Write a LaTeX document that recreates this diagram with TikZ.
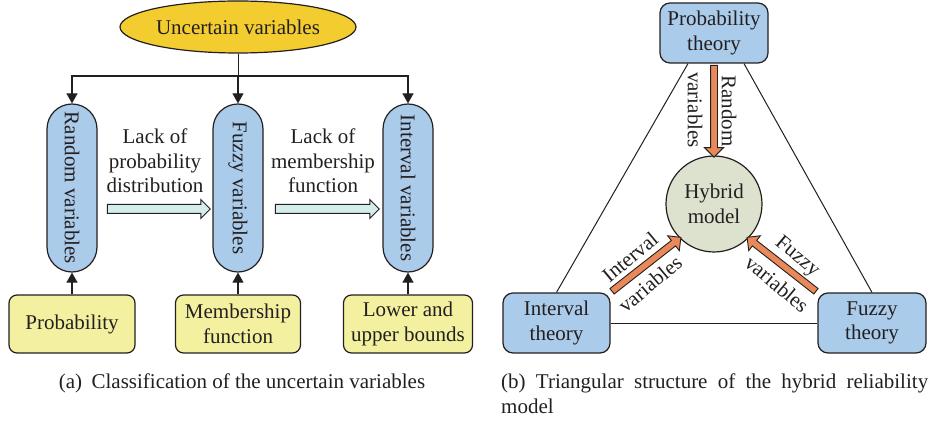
\documentclass[tikz,border=0pt]{standalone}
\usepackage{fontspec}
\setmainfont{Liberation Serif}
\usetikzlibrary{arrows.meta,shapes.arrows,shapes.geometric,calc,backgrounds}
\definecolor{ink}{HTML}{231F20}
\definecolor{bluefill}{RGB}{170,203,234}
\definecolor{yellowell}{RGB}{243,205,48}
\definecolor{lightyellow}{RGB}{243,240,160}
\definecolor{hybridfill}{RGB}{220,226,205}
\definecolor{cyanfill}{RGB}{212,236,234}
\definecolor{orangefill}{RGB}{233,137,90}
\newcommand\myblockarrow[4]{\path let \p1=(#2), \p2=(#3), \n1={atan2(\y2-\y1,\x2-\x1)}, \n2={veclen(\x2-\x1,\y2-\y1)} in node[#1, rotate=\n1, minimum height=\n2] (#4) at ($(\p1)!0.5!(\p2)$) {};}
\begin{document}
\begin{tikzpicture}[x=1pt,y=-1pt,
  font=\fontsize{21}{24.5}\selectfont, text=ink,
  ell/.style={ellipse, draw=ink, fill=yellowell, line width=1.2pt, minimum width=236pt, minimum height=52pt, inner sep=0pt},
  pill/.style={draw=ink, fill=bluefill, line width=1.2pt, rounded corners=25pt, minimum width=50pt, minimum height=168pt, inner sep=0pt},
  ybox/.style={draw=ink, fill=lightyellow, line width=1.2pt, rounded corners=8pt, minimum height=58pt, inner sep=0pt, align=center},
  tbox/.style={draw=ink, fill=bluefill, line width=1.2pt, rounded corners=10pt, minimum width=108pt, minimum height=60pt, inner sep=0pt, align=center},
  hm/.style={circle, draw=ink, fill=hybridfill, line width=1.2pt, minimum size=96pt, inner sep=0pt, align=center},
  conn/.style={draw=ink, line width=1.1pt, -{Triangle[length=10pt,width=11pt]}},
  plain/.style={draw=ink, line width=1pt},
  harrow/.style={single arrow, draw=ink, fill=cyanfill, line width=1pt, inner xsep=0pt, inner ysep=4pt, single arrow head extend=5pt},
  oarrow/.style={single arrow, draw=ink, fill=orangefill, line width=0.9pt, inner xsep=0pt, inner ysep=3pt, single arrow head extend=6pt},
  lbl/.style={inner sep=0pt, align=center}
]
\useasboundingbox (0,0) rectangle (932,422);

% ---------- (a) ----------
\node[ell] (unc) at (238,27) {Uncertain variables};
\node[pill] (rv) at (72,188) {\rotatebox{-90}{Random variables}};
\node[pill] (fv) at (238,188) {\rotatebox{-90}{Fuzzy variables}};
\node[pill] (iv) at (408,188) {\rotatebox{-90}{Interval variables}};
\node[ybox, minimum width=126pt] (pb) at (72,324) {Probability};
\node[ybox, minimum width=125pt] (mf) at (238,324) {Membership\\function};
\node[ybox, minimum width=129pt] (lb) at (408,324) {Lower and\\upper bounds};

\coordinate (jn) at (238,76);
\draw[plain] (unc.south) -- (jn);
\draw[conn] (jn) -- (fv.north);
\draw[conn] (jn) -| (rv.north);
\draw[conn] (jn) -| (iv.north);
\draw[conn] (pb.north) -- (rv.south);
\draw[conn] (mf.north) -- (fv.south);
\draw[conn] (lb.north) -- (iv.south);

\node[lbl] (l1) at (155,161) {Lack of\\probability\\distribution};
\node[lbl] (l2) at (323,161) {Lack of\\membership\\function};
\node[harrow, minimum height=103pt] (ha1) at (156.5,209) {};
\node[harrow, minimum height=104pt] (ha2) at (325,209) {};

\node[lbl, anchor=base] (capa) at (242,388) {(a)\hspace{0.45em}Classification of the uncertain variables};

% ---------- (b) ----------
\node[tbox] (prob) at (714,33) {Probability\\theory};
\node[hm] (hyb) at (714,204) {Hybrid\\model};
\node[tbox, minimum width=107pt] (int) at (556.5,323) {Interval\\theory};
\node[tbox] (fuz) at (872,323) {Fuzzy\\theory};

\begin{pgfonlayer}{background}
\draw[plain] ([xshift=-26pt]prob.south) -- (int.north);
\draw[plain] ([xshift=30pt]prob.south) -- (fuz.north);
\draw[plain] (int.east) -- (fuz.west);
\end{pgfonlayer}

\myblockarrow{oarrow}{prob.south}{hyb.north}{oa1}
\myblockarrow{oarrow}{int.north east}{hyb.south west}{oa2}
\myblockarrow{oarrow}{fuz.north west}{hyb.south east}{oa3}

\node[lbl, rotate=-90] (tr1) at (729,111) {Random};
\node[lbl, rotate=-90] (tr2) at (695,110) {variables};
\node[lbl, rotate=40] (ti1) at (630,257) {Interval};
\node[lbl, rotate=40] (ti2) at (650,284) {variables};
\node[lbl, rotate=-40] (tf1) at (797,257) {Fuzzy};
\node[lbl, rotate=-40] (tf2) at (777,284) {variables};

\node[lbl, anchor=base west] (capb1) at (501,388) {\makebox[427pt][s]{(b) Triangular structure of the hybrid reliability}};
\node[lbl, anchor=base west] (capb2) at (501,413) {model};
\end{tikzpicture}
\end{document}
